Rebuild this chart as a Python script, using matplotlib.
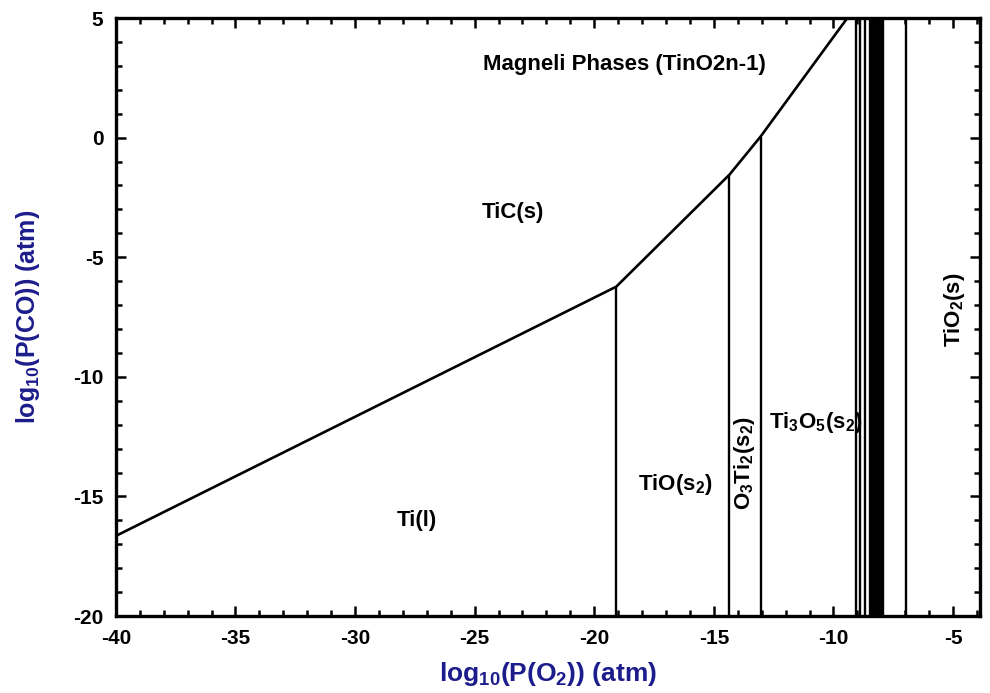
import matplotlib
matplotlib.use("Agg")
import matplotlib.pyplot as plt
from matplotlib.ticker import MultipleLocator

plt.rcParams['font.family'] = ['Liberation Sans', 'DejaVu Sans']
plt.rcParams['font.weight'] = 'bold'
plt.rcParams['axes.unicode_minus'] = False
plt.rcParams['mathtext.fontset'] = 'custom'
plt.rcParams['mathtext.rm'] = 'Liberation Sans:bold'
plt.rcParams['mathtext.bf'] = 'Liberation Sans:bold'
plt.rcParams['mathtext.default'] = 'bf'

# boundary between Ti(l)/TiO/... and TiC(s), log10 P(O2) vs log10 P(CO)
boundary_x = [-40.0, -19.08, -14.35, -13.05, -9.42]
boundary_y = [-16.65, -6.23, -1.55, 0.04, 5.0]

# vertical phase boundaries (x position, top y)
vline_x = [-19.08, -14.35, -13.05,
           -9.05, -8.88, -8.67, -8.46, -8.37, -8.30, -8.23, -8.16,
           -8.09, -8.02, -7.95, -6.95]
vline_top = [-6.23, -1.55, 0.04,
             5, 5, 5, 5, 5, 5, 5, 5,
             5, 5, 5, 5]

label_text = ['Magneli Phases (TinO2n-1)', 'TiC(s)', 'Ti(l)',
              r'TiO(s$_2$)', r'Ti$_3$O$_5$(s$_2$)']
label_x = [-18.75, -23.4, -27.4, -16.6, -10.75]
label_y = [3.05, -3.15, -16.0, -14.5, -11.9]

fig = plt.figure(figsize=(9.9, 6.93), dpi=100)
ax = fig.add_axes([0.117, 0.111, 0.873, 0.863])

ax.plot(boundary_x, boundary_y, color='black', lw=1.9)
ax.vlines(vline_x, -20, vline_top, color='black', lw=1.7)

for t, x, y in zip(label_text, label_x, label_y):
    ax.text(x, y, t, ha='center', va='center', fontsize=16, fontweight='bold')

ax.text(-13.72, -13.6, r'O$_3$Ti$_2$(s$_2$)', rotation=90, ha='center', va='center',
        fontsize=16, fontweight='bold')
ax.text(-4.95, -7.2, r'TiO$_2$(s)', rotation=90, ha='center', va='center',
        fontsize=16, fontweight='bold')

ax.set_xlim(-40, -3.87)
ax.set_ylim(-20, 5)
ax.xaxis.set_major_locator(MultipleLocator(5))
ax.xaxis.set_minor_locator(MultipleLocator(1))
ax.yaxis.set_major_locator(MultipleLocator(5))
ax.yaxis.set_minor_locator(MultipleLocator(1))
ax.tick_params(which='both', direction='in', top=True, right=True, width=1.8,
               labelsize=15)
ax.tick_params(which='major', length=7, pad=9)
ax.tick_params(which='minor', length=4)
for lab in ax.get_xticklabels() + ax.get_yticklabels():
    lab.set_fontweight('bold')
for s in ax.spines.values():
    s.set_linewidth(2.4)

ax.set_xlabel(r'log$_{10}$(P(O$_2$)) (atm)', color='#1c1c8c', fontsize=19,
              fontweight='bold', labelpad=9)
ax.set_ylabel(r'log$_{10}$(P(CO)) (atm)', color='#1c1c8c', fontsize=18,
              fontweight='bold', labelpad=22)

fig.savefig('out.png', dpi=100)
